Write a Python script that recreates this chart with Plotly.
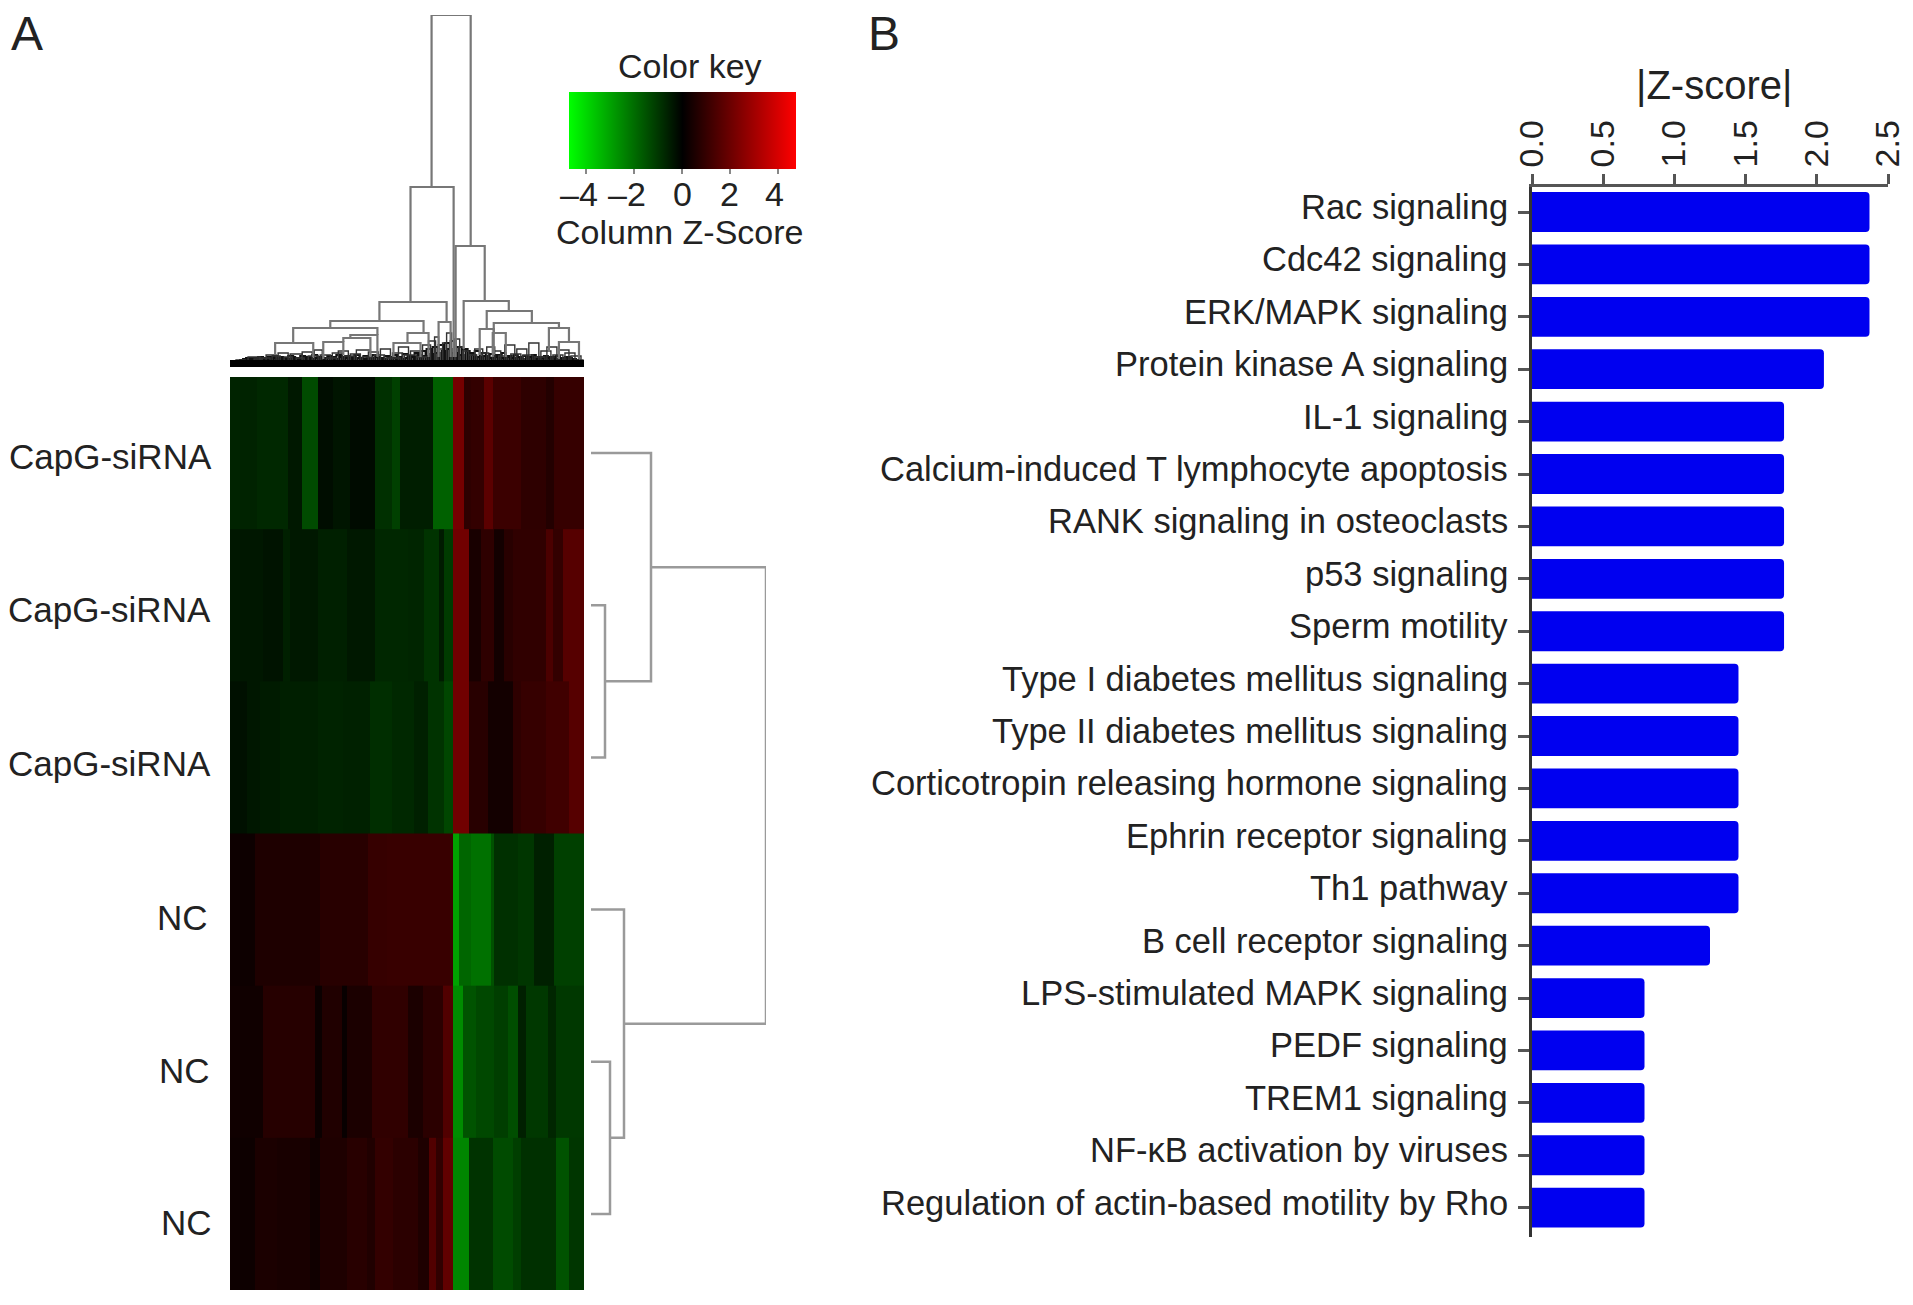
import plotly.graph_objects as go

W, H = 1913, 1305
FONT = "Liberation Sans, Arial, sans-serif"
INK = "#222222"

# ---------- panel A: heat map stripes (gene order position, Z-score) ----------
row_labels = ["CapG-siRNA", "CapG-siRNA", "CapG-siRNA", "NC", "NC", "NC"]

row1_edges = [0,27,58,72,88,103,120,145,162,170,202,222,233,240,253,262,290,315,323,353]
row1_z = [-0.65,-0.75,-0.45,-1.4,-0.25,-0.4,-0.2,-0.9,-1.2,-0.55,-1.8,2.2,0.85,0.95,1.7,1.1,0.85,0.65,1.0]
row2_edges = [0,33,53,60,88,117,145,177,193,208,213,222,238,250,263,273,282,315,322,332,353]
row2_z = [-0.42,-0.35,-0.6,-0.45,-0.6,-0.45,-0.72,-0.68,-0.95,-0.5,-1.1,2.1,0.45,0.85,0.35,0.75,0.9,1.4,0.95,1.6]
row3_edges = [0,17,30,50,88,113,140,162,183,197,213,222,238,257,282,290,315,338,353]
row3_z = [-0.3,-0.42,-0.5,-0.58,-0.65,-0.62,-0.85,-0.75,-0.6,-0.95,-1.3,2.1,0.75,0.35,0.85,1.0,1.2,1.6]
row4_edges = [0,25,90,138,157,187,222,228,240,260,263,287,303,323,353]
row4_z = [0.25,0.55,0.75,1.0,1.05,1.05,-3.0,-1.9,-2.1,-1.5,-0.9,-1.0,-0.6,-1.2]
row5_edges = [0,33,85,92,112,117,142,177,192,212,222,232,245,263,277,287,295,317,325,353]
row5_z = [0.3,0.7,0.2,0.6,0.15,0.5,0.9,0.5,0.8,1.5,-2.6,-1.55,-1.35,-1.15,-1.45,-0.6,-1.05,-0.7,-1.05]
row6_edges = [0,25,47,80,90,117,137,145,163,187,198,205,212,222,238,262,282,290,325,338,353]
row6_z = [0.25,0.5,0.45,0.3,0.55,0.75,0.6,0.95,0.8,0.55,1.5,0.9,1.8,-2.5,-0.95,-1.4,-1.15,-0.9,-1.55,-1.0]

key_ticks = [-4, -2, 0, 2, 4]
key_tick_text = ["–4", "–2", "0", "2", "4"]

# ---------- panel A: column dendrogram, upper merges ----------
top_xl = [201,180,225,149,233,256,100,208,63,177,45,120,113,93,163,263,318,328,249,262]
top_xr = [240,223,254,216,278,301,193,220,147,198,83,147,140,113,190,328,338,348,263,275]
top_h  = [352,180,121,65,66,56,46,45,39,34,24,32,29,25,24,44,39,25,38,34]
top_hl = [180,65,10,46,18,38,39,10,24,24,12,29,25,8,10,34,15,8,12,10]
top_hr = [121,10,66,45,56,44,34,10,32,10,10,10,10,12,10,39,25,8,12,10]

# lower merges of the column dendrogram (position pair and height)
low_xl = [2,6,12,18,24,30,36,42,48,54,60,66,72,78,84,90,96,102,108,114,120,126,132,138,144,150,156,
          162,168,174,180,186,192,198,204,207,212,216,220,224,228,232,238,244,250,256,262,268,274,
          280,286,292,298,304,310,316,322,328,334,340,346]
low_xr = [9,15,20,30,32,40,46,50,58,62,72,74,82,88,92,100,106,112,118,124,130,140,142,148,154,160,170,
          172,178,186,190,196,200,205,208,212,216,221,225,229,233,238,246,252,258,264,270,276,284,
          290,296,302,308,314,320,326,332,338,344,350,352]
low_h  = [4,7,6,10,8,9,12,11,14,10,13,9,15,11,17,12,9,14,16,11,13,17,10,15,12,18,9,
          14,20,12,16,10,22,26,30,18,24,34,14,28,20,16,12,18,14,20,16,11,22,
          13,18,12,24,10,16,20,12,17,14,11,7]
fine_xl = [1,4,7,10,13,16,19,22,25,28,31,34,37,40,43,46,49,52,55,58,61,64,67,70,73,76,79,82,85,88,
           91,94,97,100,103,106,109,112,115,118,121,124,127,130,133,136,139,142,145,148,151,154,157,160,
           163,166,169,172,175,178,181,184,187,190,193,196,199,202,205,208,211,214,217,220,223,226,229,232,235,238,
           241,244,247,250,253,256,259,262,265,268,271,274,277,280,283,286,289,292,295,298,301,304,307,310,
           313,316,319,322,325,328,331,334,337,340,343,346,349]
fine_xr = [4,8,11,14,17,21,23,27,29,33,35,39,41,45,47,51,53,57,59,63,65,69,71,75,77,81,83,87,89,93,
           95,99,101,105,107,111,113,117,119,123,125,129,131,135,137,141,143,147,149,153,155,159,161,165,
           167,171,173,177,179,183,185,189,191,195,197,201,203,207,209,213,215,219,221,225,227,231,233,237,239,243,
           245,249,251,255,257,261,263,267,269,273,275,279,281,285,287,291,293,297,299,303,305,309,311,315,
           317,321,323,327,329,333,335,339,341,345,347,350,352]
fine_h = [4,5,6,7,8,9,8,9,8,10,9,8,10,9,11,8,10,9,8,11,10,9,8,11,9,10,8,12,9,10,
          8,9,11,10,8,12,10,9,11,8,10,12,9,8,11,10,9,12,10,9,8,11,10,9,
          12,10,8,13,9,11,10,14,12,16,11,18,13,20,14,22,16,24,18,26,14,20,12,18,16,14,
          12,16,10,14,11,9,13,10,12,9,14,10,11,9,12,10,8,11,9,10,12,8,10,9,
          11,9,10,8,11,9,8,10,9,8,7,6,4]
band_x = [0, 353]
band_h = [3.5, 3.5]

# ---------- panel A: row dendrogram ----------
side_yt = [1, 4, 0, 3, 0.75]
side_yb = [2, 5, 1.5, 4.5, 3.75]
side_h  = [14, 19, 60, 33, 175]
side_ht = [0, 0, 0, 0, 60]
side_hb = [0, 0, 14, 19, 33]

# ---------- panel B ----------
pathways = ["Rac signaling","Cdc42 signaling","ERK/MAPK signaling","Protein kinase A signaling",
            "IL-1 signaling","Calcium-induced T lymphocyte apoptosis","RANK signaling in osteoclasts",
            "p53 signaling","Sperm motility","Type I diabetes mellitus signaling",
            "Type II diabetes mellitus signaling","Corticotropin releasing hormone signaling",
            "Ephrin receptor signaling","Th1 pathway","B cell receptor signaling",
            "LPS-stimulated MAPK signaling","PEDF signaling","TREM1 signaling",
            "NF-κB activation by viruses","Regulation of actin-based motility by Rho"]
zscores = [2.37,2.37,2.37,2.05,1.77,1.77,1.77,1.77,1.77,1.45,1.45,1.45,1.45,1.45,1.25,0.79,0.79,0.79,0.79,0.79]
z_ticks = [0, 0.5, 1.0, 1.5, 2.0, 2.5]


def dx(a, b):
    return [a / W, b / W]


def dy(top, bottom):
    return [1 - bottom / H, 1 - top / H]


fig = go.Figure()

rows = [(row1_edges, row1_z), (row2_edges, row2_z), (row3_edges, row3_z),
        (row4_edges, row4_z), (row5_edges, row5_z), (row6_edges, row6_z)]
for i, (edges, vals) in enumerate(rows):
    fig.add_trace(go.Heatmap(x=edges, y=[i - 0.5, i + 0.51], z=[vals], coloraxis="coloraxis",
                             xaxis="x", yaxis="y", hoverinfo="skip"))

# dendrogram paths
fx, fy = [], []
for xl, xr, h in zip(fine_xl, fine_xr, fine_h):
    fx += [xl, xl, xr, xr, None]
    fy += [0, h, h, 0, None]
fig.add_trace(go.Scatter(x=fx, y=fy, mode="lines", xaxis="x2", yaxis="y2", hoverinfo="skip",
                         line=dict(color="#111111", width=2)))
lx, ly = [], []
for xl, xr, h in zip(low_xl, low_xr, low_h):
    lx += [xl, xl, xr, xr, None]
    ly += [0, h, h, 0, None]
fig.add_trace(go.Scatter(x=lx, y=ly, mode="lines", xaxis="x2", yaxis="y2", hoverinfo="skip",
                         line=dict(color="#333333", width=1.4)))
px, py = [], []
for xl, xr, h, hl, hr in zip(top_xl, top_xr, top_h, top_hl, top_hr):
    px += [xl, xl, xr, xr, None]
    py += [hl, h, h, hr, None]
fig.add_trace(go.Scatter(x=px, y=py, mode="lines", xaxis="x2", yaxis="y2", hoverinfo="skip",
                         line=dict(color="#777777", width=2.2)))
fig.add_trace(go.Scatter(x=band_x, y=band_h, mode="lines", xaxis="x2", yaxis="y2", hoverinfo="skip",
                         line=dict(color="#000000", width=7)))

sx, sy = [], []
for yt, yb, h, ht, hb in zip(side_yt, side_yb, side_h, side_ht, side_hb):
    sx += [ht, h, h, hb, None]
    sy += [yt, yt, yb, yb, None]
fig.add_trace(go.Scatter(x=sx, y=sy, mode="lines", xaxis="x3", yaxis="y3", hoverinfo="skip",
                         line=dict(color="#9a9a9a", width=2.5)))

fig.add_trace(go.Bar(x=zscores, y=pathways, orientation="h", xaxis="x4", yaxis="y4",
                     width=0.76, hoverinfo="skip",
                     marker=dict(color="#0000F0", line=dict(width=0), cornerradius=4)))

hidden = dict(visible=False, showgrid=False, zeroline=False)
fig.update_layout(
    width=W, height=H, margin=dict(l=0, r=0, t=0, b=0, pad=0, autoexpand=False),
    paper_bgcolor="white", plot_bgcolor="white", showlegend=False,
    font=dict(family=FONT, color=INK, size=34),
    coloraxis=dict(
        cmin=-4.75, cmax=4.75,
        colorscale=[[0, "#00ff00"], [0.5, "#000000"], [1, "#ff0000"]],
        colorbar=dict(
            orientation="h", lenmode="pixels", len=227, thicknessmode="pixels", thickness=77,
            x=682 / W, xanchor="center", y=1 - 92 / H, yanchor="top", xpad=0, ypad=0,
            outlinewidth=0, tickvals=key_ticks, ticks="outside", ticklen=5, tickwidth=2,
            tickcolor="#888888", showticklabels=False,
        ),
    ),
    xaxis=dict(domain=dx(230, 584), range=[0, 353], **hidden),
    yaxis=dict(domain=dy(377, 1290), range=[5.5, -0.5], **hidden),
    xaxis2=dict(domain=dx(230, 584), range=[0, 353], anchor="y2", **hidden),
    yaxis2=dict(domain=dy(15, 367), range=[0, 352], anchor="x2", **hidden),
    xaxis3=dict(domain=dx(591, 766), range=[0, 175], anchor="y3", **hidden),
    yaxis3=dict(domain=dy(377, 1290), range=[5.5, -0.5], anchor="x3", **hidden),
    xaxis4=dict(domain=dx(1532, 1888), range=[0, 2.5], anchor="y4", side="top",
                showgrid=False, zeroline=False, showline=True, linecolor="#555555", linewidth=2.5,
                ticks="outside", ticklen=10, tickwidth=2.5, tickcolor="#555555",
                tickmode="array", tickvals=z_ticks, ticktext=["0.0", "0.5", "1.0", "1.5", "2.0", "2.5"],
                tickangle=-90, tickfont=dict(size=34)),
    yaxis4=dict(domain=dy(187, 1237), range=[19.56, -0.477], anchor="x4", type="category",
                showgrid=False, zeroline=False, showline=True, linecolor="#333333", linewidth=3,
                ticks="outside", ticklen=11, tickwidth=2.5, tickcolor="#555555",
                showticklabels=False, categoryorder="array", categoryarray=pathways),
    bargap=0.22,
)

# (text, x px, y px, size, xanchor)
texts = [("A", 27, 33, 48, "center"), ("B", 884, 34, 48, "center"),
         ("Color key", 690, 66, 34, "center"), ("Column Z-Score", 680, 232, 34, "center"),
         ("|Z-score|", 1714, 85, 40, "center")]
tick_xs = [579, 627, 682, 729, 774]
for t, xp in zip(key_tick_text, tick_xs):
    texts.append((t, xp, 194, 34, "center"))
label_rights = [214, 213, 213, 210, 212, 214]
label_ys = [456, 609, 763, 917, 1070, 1222]
for t, xp, yp in zip(row_labels, label_rights, label_ys):
    texts.append((t, xp, yp, 35, "right"))
for t, xp, yp, s, anc in texts:
    fig.add_annotation(text=t, x=xp / W, y=1 - yp / H, xref="paper", yref="paper",
                       xanchor=anc, yanchor="middle", showarrow=False,
                       font=dict(size=s, family=FONT, color=INK))

# pathway names sit beside their bars, slightly above the tick
for name in pathways:
    fig.add_annotation(text=name, x=0, y=name, xref="x4", yref="y4", xanchor="right",
                       yanchor="middle", xshift=-22, yshift=5, showarrow=False,
                       font=dict(size=34.5, family=FONT, color=INK))

fig.write_html("out.html", config=dict(displayModeBar=False),
               post_script="document.body.style.margin='0';")
